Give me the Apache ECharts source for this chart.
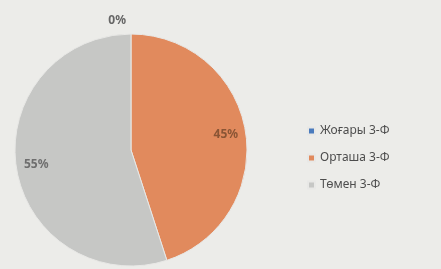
<!doctype html>
<html>
<head>
    <meta charset="utf-8">
    <title>Pie</title>
    <script src="https://cdn.jsdelivr.net/npm/echarts@6/dist/echarts.min.js"></script>
    <style>
        html, body { margin: 0; padding: 0; background: #ecece9; }
        #main { width: 441px; height: 269px; }
    </style>
</head>
<body>
    <div id="main"></div>
    <script type="text/javascript">
        var categories = ['Жоғары 3-Ф', 'Орташа 3-Ф', 'Төмен 3-Ф'];
        var values = [0, 45, 55];
        var colors = ['#4a7bbd', '#e18a5d', '#c6c7c5'];
        var labelColors = ['#666', '#8a5535', '#6e6e6e'];

        var myChart = echarts.init(document.getElementById('main'));

        // main pie: slices + the small 0% label outside
        var mainData = categories.map(function (name, i) {
            return {
                name: name,
                value: values[i],
                itemStyle: { color: colors[i] },
                label: { show: values[i] === 0, color: labelColors[i] }
            };
        });
        // transparent ring, only used to put the labels nearer the rim
        var labelData = categories.map(function (name, i) {
            return {
                name: name,
                value: values[i],
                label: { show: values[i] > 0, color: labelColors[i] }
            };
        });

        var option = {
            backgroundColor: '#ecece9',
            animation: false,
            legend: {
                orient: 'vertical',
                left: 302,
                top: 120,
                itemWidth: 7,
                itemHeight: 7,
                itemGap: 15,
                icon: 'rect',
                data: categories,
                textStyle: { fontFamily: 'Noto Sans', fontSize: 12, color: '#4d4d4d' }
            },
            series: [
                {
                    type: 'pie',
                    center: [131, 150],
                    radius: [0, 116],
                    startAngle: 90,
                    clockwise: true,
                    itemStyle: { borderColor: '#e8e8e6', borderWidth: 1 },
                    label: {
                        position: 'outside',
                        formatter: '{d}%',
                        fontFamily: 'Noto Sans',
                        fontSize: 12,
                        fontWeight: 'bold'
                    },
                    labelLine: { show: false, length: 13, length2: 0 },
                    data: mainData
                },
                {
                    type: 'pie',
                    silent: true,
                    center: [131, 150],
                    radius: [70, 116],
                    startAngle: 90,
                    clockwise: true,
                    itemStyle: { color: 'transparent' },
                    label: {
                        position: 'inside',
                        formatter: '{d}%',
                        fontFamily: 'Noto Sans',
                        fontSize: 12,
                        fontWeight: 'bold'
                    },
                    data: labelData
                }
            ]
        };

        myChart.setOption(option);
    </script>
</body>
</html>
